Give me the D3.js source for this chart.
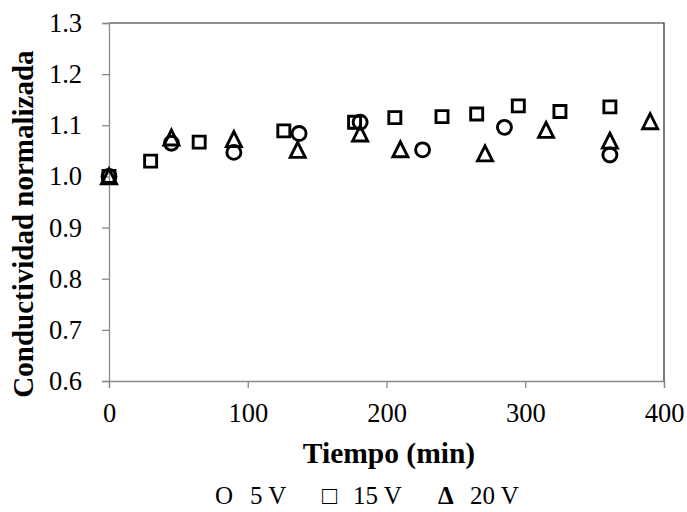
<!DOCTYPE html>
<html>
<head>
<meta charset="utf-8">
<script src="https://cdn.jsdelivr.net/npm/d3@7/dist/d3.min.js"></script>
<style>
  html, body { margin: 0; padding: 0; background: #fff; }
  svg { display: block; }
  text { font-family: "Liberation Serif", "Times New Roman", serif; fill: #000; }
</style>
</head>
<body>
<svg id="chart" width="687" height="512"></svg>
<script>
// Normalised conductivity over time for three applied voltages
const time5 = [0, 45, 90, 137, 181, 226, 285, 361];
const cond5 = [1.0, 1.065, 1.047, 1.084, 1.106, 1.052, 1.096, 1.042];

const time15 = [0, 30, 65, 126, 177, 206, 240, 265, 295, 325, 361];
const cond15 = [1.0, 1.030, 1.067, 1.089, 1.106, 1.115, 1.117, 1.122, 1.138, 1.127, 1.136];

const time20 = [0, 45, 90, 136, 181, 210, 271, 315, 361, 390];
const cond20 = [1.0, 1.076, 1.073, 1.052, 1.084, 1.053, 1.045, 1.091, 1.070, 1.108];

const xTicks = [0, 100, 200, 300, 400];
const yTicks = [0.6, 0.7, 0.8, 0.9, 1.0, 1.1, 1.2, 1.3];

const xLabel = "Tiempo (min)";
const yLabel = "Conductividad normalizada";
const legendItems = [
  { symbol: "O", text: "5 V", bold: false, sx: 215, tx: 250 },
  { symbol: "\u25A1", text: "15 V", bold: false, sx: 322, tx: 353 },
  { symbol: "\u0394", text: "20 V", bold: true, sx: 438, tx: 470 }
];

const svg = d3.select("#chart");
const plotLeft = 109, plotRight = 664, plotTop = 23, plotBottom = 381;

const x = d3.scaleLinear().domain([0, 400]).range([plotLeft, plotRight]);
const y = d3.scaleLinear().domain([0.6, 1.3]).range([plotBottom, plotTop]);

// plot-area frame (top and right edges)
svg.append("path")
  .attr("d", `M${plotLeft},${plotTop}H${plotRight}V${plotBottom}`)
  .attr("fill", "none")
  .attr("stroke", "#222")
  .attr("stroke-width", 1.2);

// axes
const axisColor = "#8a8a8a";
const tickFont = 26.5;
const gx = svg.append("g")
  .attr("transform", `translate(0,${plotBottom})`)
  .call(d3.axisBottom(x).tickValues(xTicks).tickSize(7).tickPadding(15).tickFormat(d3.format("d")));
const gy = svg.append("g")
  .attr("transform", `translate(${plotLeft},0)`)
  .call(d3.axisLeft(y).tickValues(yTicks).tickSize(7).tickPadding(20).tickFormat(d3.format(".1f")));

[gx, gy].forEach(g => {
  g.select(".domain").attr("stroke", axisColor).attr("stroke-width", 1.3);
  g.selectAll(".tick line").attr("stroke", axisColor).attr("stroke-width", 1.3);
  g.selectAll(".tick text")
    .attr("font-family", "'Liberation Serif', serif")
    .attr("font-size", tickFont)
    .attr("fill", "#000");
});

// axis titles
svg.append("text")
  .attr("x", 389)
  .attr("y", 463)
  .attr("text-anchor", "middle")
  .attr("font-size", 29.5)
  .attr("font-weight", "bold")
  .text(xLabel);

svg.append("text")
  .attr("transform", "translate(33,224) rotate(-90)")
  .attr("text-anchor", "middle")
  .attr("font-size", 29)
  .attr("font-weight", "bold")
  .text(yLabel);

// markers
const markerStroke = 2.9;
const plot = svg.append("g");

plot.selectAll("circle.v5")
  .data(time5.map((t, i) => ({ t, v: cond5[i] })))
  .join("circle")
  .attr("class", "v5")
  .attr("cx", d => x(d.t))
  .attr("cy", d => y(d.v))
  .attr("r", 7)
  .attr("fill", "none")
  .attr("stroke", "#000")
  .attr("stroke-width", markerStroke);

plot.selectAll("path.v15")
  .data(time15.map((t, i) => ({ t, v: cond15[i] })))
  .join("path")
  .attr("class", "v15")
  .attr("d", d3.symbol(d3.symbolSquare, 144))
  .attr("transform", d => `translate(${x(d.t)},${y(d.v)})`)
  .attr("fill", "none")
  .attr("stroke", "#000")
  .attr("stroke-width", markerStroke);

plot.selectAll("path.v20")
  .data(time20.map((t, i) => ({ t, v: cond20[i] })))
  .join("path")
  .attr("class", "v20")
  .attr("d", () => {
    const s = 15, h = s * Math.sqrt(3) / 2;
    return `M0,${-h / 2 - 1}L${s / 2},${h / 2 + 1}L${-s / 2},${h / 2 + 1}Z`;
  })
  .attr("transform", d => `translate(${x(d.t)},${y(d.v)})`)
  .attr("fill", "none")
  .attr("stroke", "#000")
  .attr("stroke-width", markerStroke)
  .attr("stroke-linejoin", "miter");

// legend: symbol glyph followed by series name
const legend = svg.append("g").attr("font-size", 25);
legendItems.forEach(item => {
  legend.append("text")
    .attr("x", item.sx)
    .attr("y", 504)
    .attr("font-weight", item.bold ? "bold" : "normal")
    .attr("fill", item.symbol === "\u25A1" ? "#444" : "#000")
    .text(item.symbol);
  legend.append("text")
    .attr("x", item.tx)
    .attr("y", 504)
    .text(item.text);
});
</script>
</body>
</html>
